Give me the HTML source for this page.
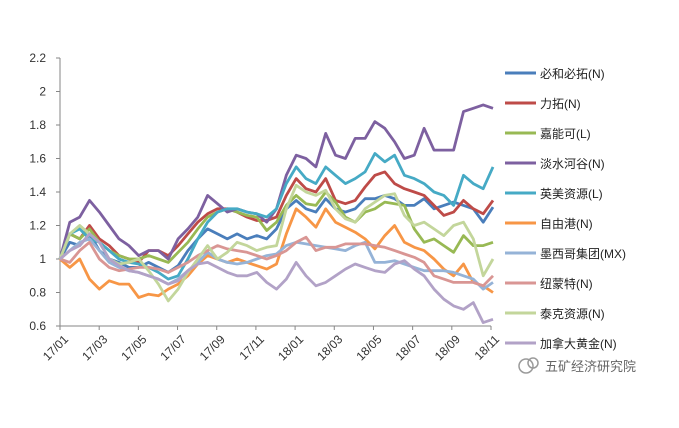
<!DOCTYPE html>
<html><head><meta charset="utf-8"><style>
body{margin:0;background:#fff;}
svg{display:block;font-family:"Liberation Sans","Noto Sans CJK SC",sans-serif;}
</style></head><body>
<svg id="chart" width="679" height="428">
<g id="axes"></g><g id="series"></g><g id="legend"></g>
<g>
<circle cx="526" cy="366" r="7" fill="none" stroke="#9a9a9a" stroke-width="1.5"/>
<circle cx="533" cy="363" r="5" fill="none" stroke="#9a9a9a" stroke-width="1.5"/>
<text x="545" y="371" font-size="13" fill="#666">五矿经济研究院</text>
</g>
</svg>
<script>
const yTicks=[0.6,0.8,1,1.2,1.4,1.6,1.8,2,2.2];
const xLabels=["17/01","17/03","17/05","17/07","17/09","17/11","18/01","18/03","18/05","18/07","18/09","18/11"];
const names=["必和必拓(N)","力拓(N)","嘉能可(L)","淡水河谷(N)","英美资源(L)","自由港(N)","墨西哥集团(MX)","纽蒙特(N)","泰克资源(N)","加拿大黄金(N)"];
const colors=["#4a7ebb","#be4b48","#98b954","#7d60a0","#46aac5","#f79646","#95b3d7","#d99694","#c3d69b","#b2a2c7"];
const bhp=[1.0,1.1,1.08,1.15,1.05,1.0,0.98,0.95,0.95,0.98,0.95,0.92,0.96,1.05,1.12,1.18,1.15,1.12,1.15,1.12,1.14,1.12,1.18,1.3,1.35,1.3,1.28,1.36,1.3,1.28,1.3,1.36,1.36,1.38,1.36,1.32,1.32,1.36,1.3,1.32,1.34,1.32,1.3,1.22,1.31];
const rio=[1.0,1.15,1.12,1.2,1.12,1.08,1.02,1.0,0.98,1.05,1.05,1.02,1.08,1.15,1.22,1.27,1.3,1.3,1.28,1.25,1.23,1.23,1.25,1.38,1.48,1.42,1.4,1.48,1.35,1.33,1.35,1.43,1.5,1.52,1.45,1.42,1.4,1.38,1.32,1.26,1.28,1.35,1.3,1.27,1.35];
const glencore=[1.0,1.15,1.12,1.18,1.1,1.05,1.02,1.0,1.0,1.02,1.0,0.98,1.04,1.1,1.18,1.25,1.28,1.3,1.28,1.26,1.25,1.17,1.22,1.32,1.38,1.33,1.32,1.4,1.34,1.25,1.22,1.28,1.3,1.34,1.33,1.32,1.18,1.1,1.12,1.08,1.04,1.14,1.08,1.08,1.1];
const vale=[1.0,1.22,1.25,1.35,1.28,1.2,1.12,1.08,1.02,1.05,1.05,1.0,1.12,1.18,1.25,1.38,1.33,1.28,1.3,1.28,1.27,1.22,1.3,1.5,1.62,1.6,1.55,1.75,1.62,1.6,1.72,1.72,1.82,1.78,1.7,1.6,1.62,1.78,1.65,1.65,1.65,1.88,1.9,1.92,1.9];
const anglo=[1.0,1.15,1.18,1.12,1.1,1.05,1.0,0.98,0.97,0.95,0.92,0.88,0.9,1.0,1.12,1.22,1.28,1.3,1.3,1.28,1.27,1.25,1.3,1.45,1.55,1.48,1.45,1.55,1.5,1.45,1.48,1.52,1.63,1.58,1.62,1.5,1.48,1.45,1.4,1.38,1.32,1.5,1.45,1.42,1.55];
const freeport=[1.0,0.95,1.0,0.88,0.82,0.87,0.85,0.85,0.77,0.79,0.78,0.82,0.85,0.9,0.97,1.02,1.0,0.98,1.0,0.98,0.96,0.94,0.97,1.15,1.3,1.25,1.19,1.3,1.22,1.19,1.16,1.12,1.06,1.14,1.2,1.1,1.07,1.05,1.0,0.94,0.9,0.97,0.86,0.84,0.8];
const mexico=[1.0,1.05,1.1,1.12,1.05,0.98,0.95,0.93,0.92,0.9,0.88,0.85,0.88,0.93,0.98,1.04,1.0,0.98,0.97,0.98,1.0,1.02,1.03,1.08,1.1,1.09,1.08,1.07,1.06,1.05,1.08,1.1,0.98,0.98,0.99,0.97,0.95,0.93,0.93,0.93,0.92,0.9,0.88,0.82,0.86];
const newmont=[1.0,0.98,1.05,1.1,1.0,0.95,0.93,0.94,0.95,0.95,0.94,0.92,0.95,0.98,1.02,1.05,1.08,1.06,1.05,1.04,1.02,1.0,1.02,1.05,1.1,1.13,1.05,1.07,1.07,1.09,1.09,1.09,1.08,1.07,1.05,1.03,1.01,0.98,0.9,0.88,0.86,0.86,0.86,0.84,0.9];
const teck=[1.0,1.15,1.2,1.15,1.1,1.0,0.97,0.98,1.0,0.93,0.85,0.75,0.82,0.92,1.0,1.08,1.0,1.04,1.1,1.08,1.05,1.07,1.08,1.3,1.44,1.4,1.38,1.41,1.3,1.24,1.22,1.3,1.34,1.38,1.39,1.26,1.2,1.22,1.18,1.14,1.2,1.22,1.12,0.9,1.0];
const barrick=[1.0,1.05,1.08,1.15,1.1,1.0,0.96,0.93,0.92,0.9,0.88,0.85,0.87,0.93,0.97,0.98,0.95,0.92,0.9,0.9,0.92,0.86,0.82,0.88,0.98,0.9,0.84,0.86,0.9,0.94,0.97,0.95,0.93,0.92,0.97,0.99,0.94,0.9,0.82,0.76,0.72,0.7,0.74,0.62,0.64];
const seriesData=[bhp,rio,glencore,vale,anglo,freeport,mexico,newmont,teck,barrick];
const NS="http://www.w3.org/2000/svg";
const X0=60,X1=493,Y0=326,Y1=58,VMIN=0.6,VMAX=2.2;
const nPts=bhp.length;
function xScale(i){return X0+(X1-X0)*i/(nPts-1);}
function yScale(v){return Y0-(v-VMIN)/(VMAX-VMIN)*(Y0-Y1);}
function mk(tag,attrs,parent){const e=document.createElementNS(NS,tag);for(const k in attrs)e.setAttribute(k,attrs[k]);parent.appendChild(e);return e;}
const axes=document.getElementById('axes');
const yAxis=mk('line',{x1:X0,y1:Y1,x2:X0,y2:Y0,stroke:'#868686','stroke-width':1},axes);


yTicks.forEach(v=>{
  const y=yScale(v);
  const tk=mk('line',{x1:X0-4,y1:y,x2:X0,y2:y,stroke:'#868686'},axes);
  
  
  const t=mk('text',{x:X0-14,y:y+4,'font-size':12,'text-anchor':'end',fill:'#333'},axes);
  t.textContent=String(v);
  
  
});
const xAxis=mk('line',{x1:X0,y1:Y0,x2:X1-2,y2:Y0,stroke:'#868686','stroke-width':1},axes);


const step=(X1-2-X0)/(xLabels.length-1);
xLabels.forEach((l,k)=>{
  const x=X0+k*step;
  const tk=mk('line',{x1:x,y1:Y0,x2:x,y2:Y0+4,stroke:'#868686'},axes);
  
  
  const t=mk('text',{x:x+9,y:Y0+14,'font-size':12,'text-anchor':'end',fill:'#333',transform:`rotate(-45 ${x+9} ${Y0+14})`},axes);
  t.textContent=l;
  
  
});
const sg=document.getElementById('series');
seriesData.forEach((arr,s)=>{
  const d=arr.map((v,i)=>(i?'L':'M')+xScale(i).toFixed(1)+' '+yScale(v).toFixed(1)).join(' ');
  const p=mk('path',{d:d,fill:'none',stroke:colors[s],'stroke-width':2.8,'stroke-linejoin':'round'},sg);
  
  
});
const lg=document.getElementById('legend');
names.forEach((n,s)=>{
  const y=73+s*30;
  const ln=mk('line',{x1:505,y1:y,x2:536,y2:y,stroke:colors[s],'stroke-width':3},lg);
  
  
  const t=mk('text',{x:540,y:y+5,'font-size':12,fill:'#222'},lg);
  t.textContent=n;
  
  
});
</script>
</body></html>
